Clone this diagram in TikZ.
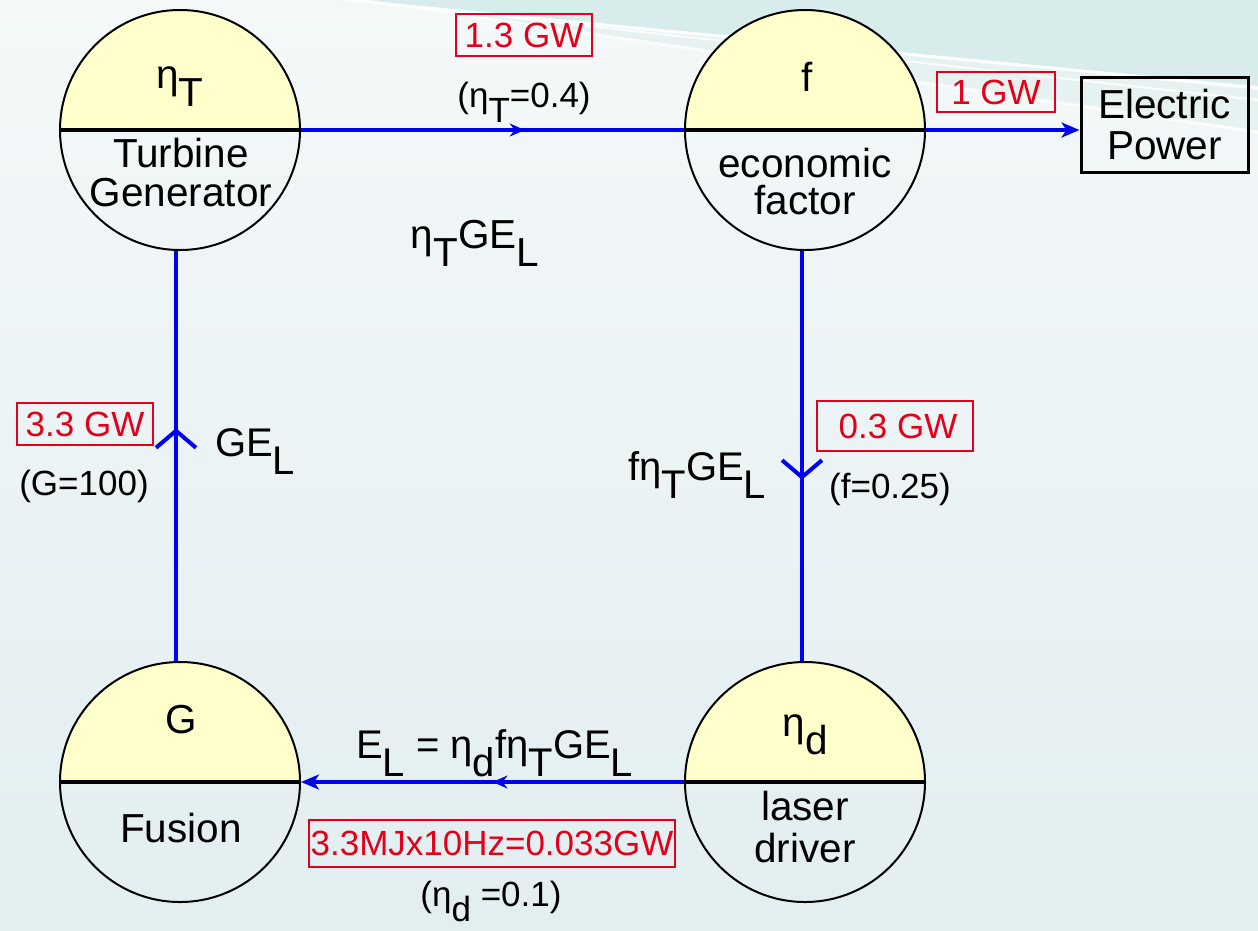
\documentclass[tikz,border=0pt]{standalone}
\usepackage{fontspec}
\setmainfont{Liberation Sans}
\usetikzlibrary{arrows.meta,decorations.markings,calc}
\definecolor{bgtop}{HTML}{F4F8F9}
\definecolor{bgbot}{HTML}{E2EEF0}
\definecolor{band}{HTML}{D9ECEC}
\definecolor{bandlight}{HTML}{E6F2F2}
\definecolor{yel}{HTML}{FFFFCC}
\definecolor{myred}{HTML}{E2001A}
\definecolor{myblue}{HTML}{0000F0}
\newcommand\lowr[1]{\raisebox{-0.45em}{#1}}
\tikzset{
  unit/.style={circle, draw=black, line width=2pt, minimum size=240pt, inner sep=0pt,
    path picture={\fill[yel] (path picture bounding box.north west) rectangle (path picture bounding box.east);}},
  divider/.style={draw=black, line width=4pt},
  big/.style={font=\fontsize{40.5}{42}\selectfont, inner sep=0pt, anchor=base},
  bigw/.style={font=\fontsize{40}{42}\selectfont, inner sep=0pt, anchor=base west},
  small/.style={font=\fontsize{35}{38}\selectfont, inner sep=0pt, anchor=base},
  redbox/.style={draw=myred, line width=2.5pt, text=myred, font=\fontsize{35}{38}\selectfont, inner sep=0pt},
  flow/.style={draw=myblue, line width=4pt},
  endtip/.style={-{Stealth[length=18pt,width=15pt,inset=5pt]}},
  midtip/.style={postaction={decorate}, decoration={markings, mark=at position #1 with {\arrow{Stealth[length=15pt,width=13pt,inset=5pt]}}}},
  vtip/.style={postaction={decorate}, decoration={markings, mark=at position #1 with {\arrow{Straight Barb[length=17pt,width=40pt]}}}}
}
\begin{document}
\begin{tikzpicture}[x=1pt,y=-1pt]
\useasboundingbox (0,0) rectangle (1258,930);
% background
\shade[top color=bgtop, bottom color=bgbot] (0,0) rectangle (1258,930);
\begin{scope}
\clip (0,0) rectangle (1258,930);
\fill[band] (340,0) -- (1258,0) -- (1258,86) -- cycle;
\fill[bandlight] (350,0) -- (1258,90) -- (1258,132) -- cycle;
\draw[white, line width=3pt, opacity=0.9] (345,0) -- (1258,88);
\draw[white, line width=2pt, opacity=0.8] (352,0) -- (1258,100);
\draw[white, line width=3pt, opacity=0.8] (360,0) -- (1258,132);
\end{scope}

% units
\node[unit] (tg) at (180,130) {};
\node[unit] (f) at (805,130) {};
\node[unit] (g) at (180,782) {};
\node[unit] (d) at (805,782) {};
\foreach \n in {tg,f,g,d} { \draw[divider] (\n.west) -- (\n.east); }

% unit texts
\node[big] (tgsym) at (180,88) {η\lowr{T}};
\node[big] (tgn1) at (181,167) {Turbine};
\node[big] (tgn2) at (181,206) {Generator};
\node[big] (fsym) at (807,91) {f};
\node[big] (fn1) at (805,177) {economic};
\node[big] (fn2) at (805,214) {factor};
\node[big] (gsym) at (181,733) {G};
\node[big] (gn1) at (181,842) {Fusion};
\node[big] (dsym) at (805,736) {η\lowr{d}};
\node[big] (dn1) at (805,820) {laser};
\node[big] (dn2) at (805,862) {driver};

% electric power box
\node[draw=black, line width=3pt, minimum width=167pt, minimum height=95pt, inner sep=0pt,
      align=center, font=\fontsize{40.5}{41}\selectfont] (ep) at (1164.5,124.5) {Electric\\Power};

% connectors
\draw[flow, midtip=0.584] (tg.east) -- (f.west);
\draw[flow, endtip] (f.east) -- (f.east -| ep.west);
\draw[flow, vtip=0.558] ([xshift=-3pt]f.south) -- ([xshift=-3pt]d.north);
\draw[flow, endtip, midtip=0.5] (d.west) -- (g.east);
\draw[flow, vtip=0.568] ([xshift=-4pt]g.north) -- ([xshift=-4pt]tg.south);

% red value boxes
\node[redbox, minimum width=136pt, minimum height=42pt] (r13) at (524,35) {1.3 GW};
\node[redbox, minimum width=118pt, minimum height=40pt] (r1) at (996,92) {1 GW};
\node[redbox, minimum width=136pt, minimum height=42pt] (r33) at (85,424) {3.3 GW};
\node[redbox, minimum width=156pt, minimum height=50pt] (r03) at (895,426) {\hspace*{6pt}0.3 GW};
\node[redbox, minimum width=366pt, minimum height=47pt] (r033) at (492,843.5) {3.3MJx10Hz=0.033GW};

% formula / parameter labels
\node[small] (p04) at (524,107) {(η\lowr{T}=0.4)};
\node[big] (ltg) at (475,248) {η\lowr{T}GE\lowr{L}};
\node[bigw] (lgel) at (215,456) {GE\lowr{L}};
\node[small] (p100) at (84,495) {(G=100)};
\node[bigw] (lf) at (628,480) {fη\lowr{T}GE\lowr{L}};
\node[small] (p025) at (890,498) {(f=0.25)};
\node[bigw] (lel) at (356,758) {E\lowr{L} = η\lowr{d}fη\lowr{T}GE\lowr{L}};
\node[small] (p01) at (491,906) {(η\lowr{d} =0.1)};
\end{tikzpicture}
\end{document}
